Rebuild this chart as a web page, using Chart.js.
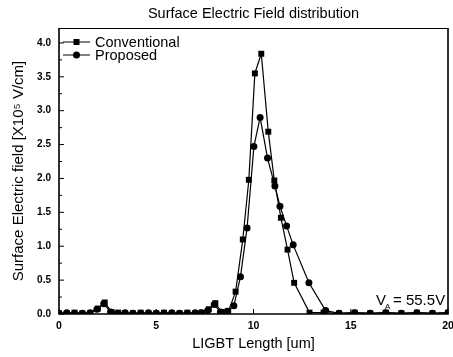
<!DOCTYPE html>
<html><head><meta charset="utf-8">
<script src="https://cdn.jsdelivr.net/npm/chart.js@4/dist/chart.umd.min.js"></script>
<style>html,body{margin:0;padding:0;background:#fff}#wrap{width:453px;height:357px}</style>
</head><body><div id="wrap"><canvas id="c" width="453" height="357"></canvas></div>
<script>
const convX = [0.0,0.4,0.8,1.2,1.6,2.0,2.35,2.7,3.05,3.4,3.8,4.2,4.6,5.0,5.4,5.8,6.2,6.6,7.0,7.35,7.7,8.04,8.35,8.7,9.08,9.45,9.76,10.07,10.40,10.76,11.07,11.41,11.75,12.09,12.88,13.6,14.4,15.2,16.0,16.8,17.6,18.4,19.2,20.0];
const convY = [0.01,0.01,0.02,0.01,0.01,0.08,0.17,0.03,0.02,0.01,0.01,0.02,0.01,0.01,0.02,0.01,0.01,0.02,0.01,0.02,0.07,0.16,0.03,0.03,0.33,1.10,1.98,3.55,3.84,2.69,1.97,1.42,0.95,0.46,0.02,0.02,0.01,0.02,0.01,0.02,0.01,0.02,0.01,0.02];
const propX = [0.0,0.4,0.8,1.2,1.6,1.95,2.3,2.65,3.0,3.4,3.8,4.2,4.6,5.0,5.4,5.8,6.2,6.6,7.0,7.3,7.65,7.98,8.3,8.65,8.99,9.33,9.67,10.02,10.34,10.72,11.10,11.36,11.70,12.04,12.85,13.71,14.4,15.2,16.0,16.8,17.6,18.4,19.2,20.0];
const propY = [0.01,0.02,0.01,0.01,0.02,0.07,0.15,0.03,0.01,0.02,0.01,0.01,0.02,0.01,0.01,0.02,0.01,0.01,0.02,0.02,0.05,0.14,0.03,0.04,0.12,0.55,1.27,2.47,2.90,2.30,1.89,1.59,1.30,1.02,0.46,0.05,0.01,0.02,0.01,0.02,0.01,0.02,0.01,0.02];
const xTicks = [0,5,10,15,20];
const yTicks = [0,0.5,1.0,1.5,2.0,2.5,3.0,3.5,4.0];
const seriesNames = ['Conventional','Proposed'];
const chartTitle = 'Surface Electric Field distribution';
const xTitle = 'LIGBT Length [um]';
const yTitle = 'Surface Electric field [X10\u2075 V/cm]';

const FONT = "'Liberation Sans', Arial, sans-serif";
const toXY = (xs, ys) => xs.map((x, i) => ({x: x, y: ys[i]}));

const framePlugin = {
  id: 'frame',
  afterDatasetsDraw(chart) {
    const ctx = chart.ctx;
    const xs = chart.scales.x, ys = chart.scales.y;
    const L = xs.getPixelForValue(xs.min), R = xs.getPixelForValue(xs.max);
    const T = ys.getPixelForValue(ys.max), B = ys.getPixelForValue(ys.min);
    ctx.save();
    ctx.strokeStyle = '#000';
    ctx.lineWidth = 1;
    ctx.beginPath(); ctx.moveTo(L, T + 0.5); ctx.lineTo(R, T + 0.5); ctx.stroke();
    ctx.lineWidth = 1.6;
    ctx.beginPath(); ctx.moveTo(L, T); ctx.lineTo(L, B); ctx.lineTo(R, B); ctx.lineTo(R, T); ctx.stroke();
    ctx.lineWidth = 1;
    ctx.beginPath();
    xTicks.forEach(v => { const p = xs.getPixelForValue(v); ctx.moveTo(p, B); ctx.lineTo(p, B - 5); });
    for (let v = 0; v <= 4.0001; v += 0.25) {
      const p = ys.getPixelForValue(v);
      const len = (Math.abs(v * 2 - Math.round(v * 2)) < 1e-6) ? 5 : 3;
      ctx.moveTo(L, p); ctx.lineTo(L + len, p);
    }
    ctx.stroke();
    // legend
    ctx.font = "14.5px " + FONT;
    ctx.fillStyle = '#000';
    ctx.textBaseline = 'middle';
    chart.data.datasets.forEach((ds, i) => {
      const y = T + 14 + i * 13;
      ctx.beginPath();
      ctx.moveTo(L + 4, y); ctx.lineTo(L + 31, y);
      ctx.stroke();
      if (ds.pointStyle === 'rect') ctx.fillRect(L + 14.5, y - 3, 6, 6);
      else { ctx.beginPath(); ctx.arc(L + 17.5, y, 3.5, 0, Math.PI * 2); ctx.fill(); }
      ctx.fillText(ds.label, L + 36, y + 1);
    });
    // annotation V_A = 55.5V
    ctx.font = "15px " + FONT;
    ctx.textBaseline = 'alphabetic';
    const bx = R - 72, by = B - 9;
    ctx.fillText('V', bx, by);
    const vw = ctx.measureText('V').width;
    ctx.font = "8px " + FONT;
    ctx.fillText('A', bx + vw - 1, by + 4);
    ctx.font = "15px " + FONT;
    ctx.fillText('= 55.5V', bx + vw + 7, by);
    ctx.restore();
  }
};

new Chart(document.getElementById('c'), {
  type: 'line',
  data: {
    datasets: [
      { label: seriesNames[0], data: toXY(convX, convY), borderColor: '#000', backgroundColor: '#000', borderWidth: 1.2,
        pointStyle: 'rect', pointRadius: 4.2, pointBorderWidth: 0, tension: 0, clip: 0 },
      { label: seriesNames[1], data: toXY(propX, propY), borderColor: '#000', backgroundColor: '#000', borderWidth: 1.2,
        pointStyle: 'circle', pointRadius: 3.5, pointBorderWidth: 0, tension: 0, clip: 0 }
    ]
  },
  options: {
    responsive: false,
    animation: false,
    devicePixelRatio: 1,
    layout: { padding: { left: 0, right: 5, top: 0, bottom: 0 }, autoPadding: false },
    plugins: {
      legend: { display: false },
      tooltip: { enabled: false },
      title: { display: true, fullSize: false, text: chartTitle, color: '#000', font: { family: FONT, size: 14.5, weight: 'normal' }, padding: { top: 5, bottom: 5.6 } }
    },
    scales: {
      x: {
        type: 'linear', min: 0, max: 20,
        afterBuildTicks: s => { s.ticks = xTicks.map(v => ({value: v})); },
        afterFit: s => { s.height = 43; s.paddingLeft = 0; s.paddingRight = 0; },
        grid: { drawOnChartArea: false, drawTicks: false },
        border: { display: false },
        ticks: { color: '#000', padding: 6, maxRotation: 0, font: { family: FONT, size: 10.5, weight: 'bold' } },
        title: { display: true, text: xTitle, color: '#000', padding: { top: 6, bottom: 4 }, font: { family: FONT, size: 14.5 } }
      },
      y: {
        type: 'linear', min: 0, max: 4.22,
        afterBuildTicks: s => { s.ticks = yTicks.map(v => ({value: v})); },
        afterFit: s => { s.width = 59; },
        grid: { drawOnChartArea: false, drawTicks: false },
        border: { display: false },
        ticks: { color: '#000', padding: 8, callback: v => Number(v).toFixed(1), font: { family: FONT, size: 10, weight: 'bold' } },
        title: { display: true, text: yTitle, color: '#000', padding: { top: 10, bottom: 6 }, font: { family: FONT, size: 15 } }
      }
    }
  },
  plugins: [framePlugin]
});
</script></body></html>
